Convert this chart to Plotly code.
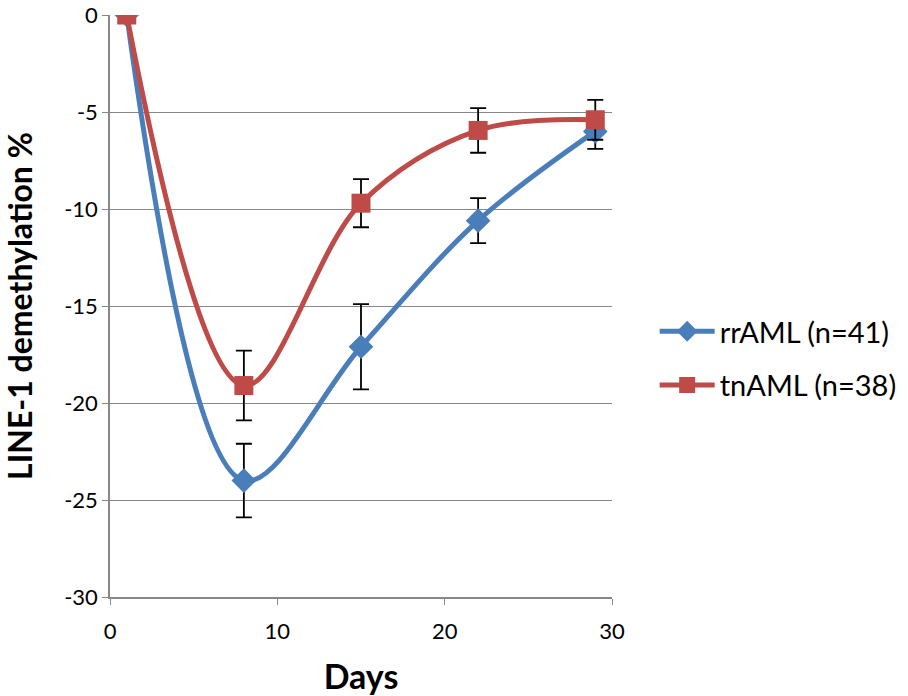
import plotly.graph_objects as go

days = [1, 8, 15, 22, 29]
rr_vals = [0, -24.0, -17.1, -10.6, -6.0]
rr_err = [0, 1.9, 2.2, 1.16, 0.9]
tn_vals = [0, -19.1, -9.7, -5.95, -5.4]
tn_err = [0, 1.8, 1.24, 1.15, 1.03]

y_ticks = [0, -5, -10, -15, -20, -25, -30]
y_ticktext = ["0", "-5", "-10", "-15", "-20", "-25", "-30"]
x_ticks = [0, 10, 20, 30]

fig = go.Figure()
fig.add_trace(go.Scatter(
    x=days, y=rr_vals, name="rrAML (n=41)", mode="lines+markers", legendgroup="rr",
    line=dict(color="#4a7ebb", width=5, shape="spline", smoothing=1.0),
    marker=dict(symbol="diamond", size=19, color="#4a7ebb"),
    error_y=dict(type="data", array=rr_err, color="black", thickness=1.8, width=8),
))
fig.add_trace(go.Scatter(
    x=days, y=tn_vals, name="tnAML (n=38)", mode="lines+markers", legendgroup="tn",
    line=dict(color="#be4b48", width=5, shape="spline", smoothing=1.0),
    marker=dict(symbol="square", size=19, color="#be4b48"),
    error_y=dict(type="data", array=tn_err, color="black", thickness=1.8, width=8),
))

font_fam = "Lato, Open Sans, sans-serif"
fig.update_layout(
    width=908, height=696,
    margin=dict(l=110, r=296, t=15, b=99, autoexpand=False),
    paper_bgcolor="white", plot_bgcolor="white",
    font=dict(family=font_fam, size=22, color="black"),
    showlegend=True,
    legend=dict(x=1.085, y=0.41, xanchor="left", yanchor="middle",
                font=dict(size=29), itemwidth=55, tracegroupgap=13,
                traceorder="grouped", bgcolor="rgba(0,0,0,0)"),
    xaxis=dict(range=[0, 30], tickvals=x_ticks, showgrid=False,
               showline=True, linecolor="#888", linewidth=1.5,
               ticks="outside", ticklen=6, tickcolor="#888",
               zeroline=False, automargin=False, ticklabelstandoff=8,
               title=dict(text="<b>Days</b>", font=dict(size=34), standoff=22)),
    yaxis=dict(range=[-30, 0], tickvals=y_ticks, ticktext=y_ticktext, showgrid=True,
               gridcolor="#888", gridwidth=1.2,
               showline=True, linecolor="#888", linewidth=1.5,
               ticks="outside", ticklen=6, tickcolor="#888",
               zeroline=False, automargin=False,
               title=dict(text="<b>LINE-1 demethylation %</b>", font=dict(size=32), standoff=24)),
)
fig.write_html("out.html")
